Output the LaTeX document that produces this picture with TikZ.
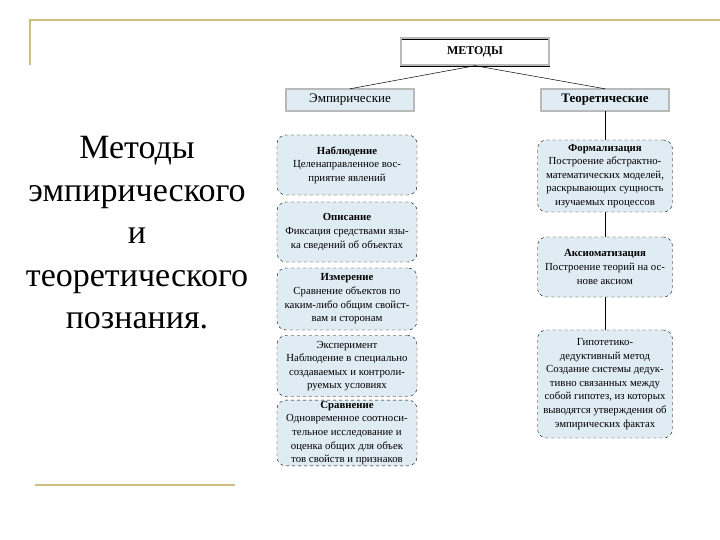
\documentclass[tikz,border=0pt]{standalone}
\usepackage{fontspec}
\setmainfont{Liberation Serif}
\usetikzlibrary{positioning}
\definecolor{gold}{RGB}{205,190,125}
\definecolor{boxfill}{RGB}{224,236,243}
\tikzset{
  method/.style={draw, dashed, rounded corners=9pt, fill=boxfill, align=center,
    font=\fontsize{10.8}{13.6}\selectfont, inner sep=1pt},
  head/.style={draw, double=gray!55, double distance=2pt, fill=boxfill,
    minimum width=128pt, minimum height=22pt, font=\fontsize{13}{14}\selectfont},
  link/.style={draw, line width=0.5pt}
}
\begin{document}
\begin{tikzpicture}[x=1pt,y=-1pt]
  \useasboundingbox (0,0) rectangle (720,540);
  % frame lines
  \draw[gold, line width=1.5pt] (30,65) -- (30,20) -- (720,20);
  \draw[gold, line width=1.5pt] (35,485) -- (235,485);
  % title
  \node[align=center, font=\fontsize{34}{42.5}\selectfont] (title) at (137,233)
    {Методы\\эмпирического\\и\\теоретического\\познания.};
  % heads
  \node[head, fill=white, minimum width=148pt, minimum height=27pt,
    font=\fontsize{12}{14}\bfseries] (metody) at (475,52) {МЕТОДЫ};
  \node[head] (emp) at (350,100) {Эмпирические};
  \node[head] (teor) at (605,100) {\textbf{Теоретические}};
  % empirical
  \node[method, minimum width=140pt, minimum height=60pt] (obs) at (347,165)
    {\textbf{Наблюдение}\\Целенаправленное вос-\\приятие явлений};
  \node[method, minimum width=140pt, minimum height=60pt] (descr) at (347,232)
    {\textbf{Описание}\\Фиксация средствами язы-\\ка сведений об объектах};
  \node[method, minimum width=140pt, minimum height=62pt] (meas) at (347,299)
    {\textbf{Измерение}\\Сравнение объектов по\\каким-либо общим свойст-\\вам и сторонам};
  \node[method, minimum width=140pt, minimum height=61pt] (exper) at (347,366)
    {Эксперимент\\Наблюдение в специально\\создаваемых и контроли-\\руемых условиях};
  \node[method, minimum width=140pt, minimum height=65pt] (compar) at (347,433)
    {\textbf{Сравнение}\\Одновременное соотноси-\\тельное исследование и\\оценка общих для объек\\тов свойств и признаков};
  % theoretical
  \node[method, minimum width=135pt, minimum height=72pt] (formal) at (605,176)
    {\textbf{Формализация}\\Построение абстрактно-\\математических моделей,\\раскрывающих сущность\\изучаемых процессов};
  \node[method, minimum width=135pt, minimum height=60pt] (axiom) at (605,267)
    {\textbf{Аксиоматизация}\\Построение теорий на ос-\\нове аксиом};
  \node[method, minimum width=135pt, minimum height=108pt] (hypo) at (605,384)
    {Гипотетико-\\дедуктивный метод\\Создание системы дедук-\\тивно связанных между\\собой гипотез, из которых\\выводятся утверждения об\\эмпирических фактах};
  % connectors
  \draw[link] (metody.south) -- (emp.north);
  \draw[link] (metody.south) -- (teor.north);
  \draw[link] (teor) -- (formal);
  \draw[link] (formal) -- (axiom);
  \draw[link] (axiom) -- (hypo);
\end{tikzpicture}
\end{document}
